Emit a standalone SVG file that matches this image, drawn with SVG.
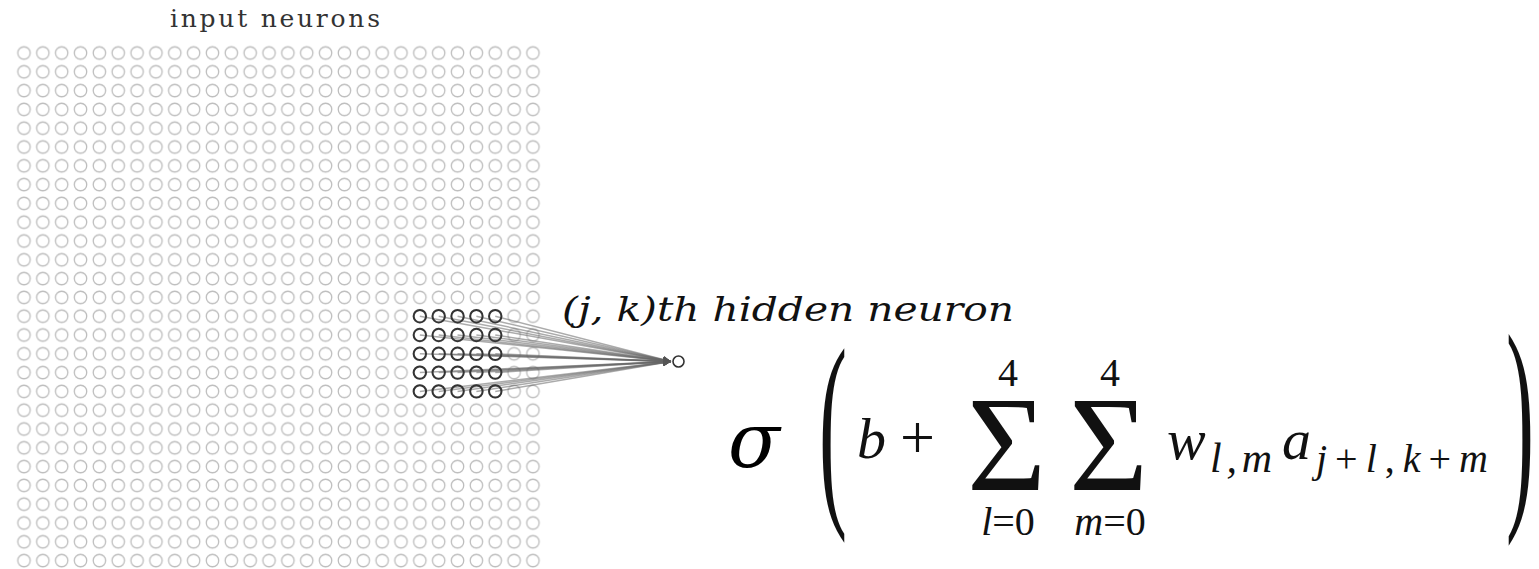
<svg xmlns="http://www.w3.org/2000/svg" width="1539" height="569" viewBox="0 0 1539 569">
<style>
.cm{font-family:"Liberation Serif","DejaVu Serif",serif;fill:#111}
.it{font-style:italic}
.lbl{font-family:"DejaVu Serif","Liberation Serif",serif;fill:#333}
.conn{stroke:#666;stroke-opacity:0.55;stroke-width:1.5;fill:none}
.dark{fill:none;stroke:#333;stroke-width:2}
</style>
<defs>
<pattern id="grid" patternUnits="userSpaceOnUse" x="14.575" y="43.6" width="18.85" height="18.8">
<circle cx="9.425" cy="9.4" r="6.2" fill="none" stroke="#bdbdbd" stroke-width="1.3"/>
</pattern>
<marker id="ah" markerUnits="userSpaceOnUse" markerWidth="10" markerHeight="8" refX="8" refY="3.5" orient="auto">
<path d="M0,0 L8,3.5 L0,7 z" fill="#555"/>
</marker>
</defs>
<rect width="1539" height="569" fill="#fff"/>
<text class="lbl" x="170" y="26.5" font-size="25" textLength="210" lengthAdjust="spacing">input neurons</text>
<g id="input-neurons">
<rect x="14.575" y="43.6" width="527.8" height="526.4" fill="url(#grid)"/>
</g>
<g id="connectors">
<line class="conn" x1="419.85" y1="316.2" x2="671" y2="361.5" marker-end="url(#ah)"/>
<line class="conn" x1="438.7" y1="316.2" x2="671" y2="361.5" marker-end="url(#ah)"/>
<line class="conn" x1="457.55" y1="316.2" x2="671" y2="361.5" marker-end="url(#ah)"/>
<line class="conn" x1="476.4" y1="316.2" x2="671" y2="361.5" marker-end="url(#ah)"/>
<line class="conn" x1="495.25" y1="316.2" x2="671" y2="361.5" marker-end="url(#ah)"/>
<line class="conn" x1="419.85" y1="335" x2="671" y2="361.5" marker-end="url(#ah)"/>
<line class="conn" x1="438.7" y1="335" x2="671" y2="361.5" marker-end="url(#ah)"/>
<line class="conn" x1="457.55" y1="335" x2="671" y2="361.5" marker-end="url(#ah)"/>
<line class="conn" x1="476.4" y1="335" x2="671" y2="361.5" marker-end="url(#ah)"/>
<line class="conn" x1="495.25" y1="335" x2="671" y2="361.5" marker-end="url(#ah)"/>
<line class="conn" x1="419.85" y1="353.8" x2="671" y2="361.5" marker-end="url(#ah)"/>
<line class="conn" x1="438.7" y1="353.8" x2="671" y2="361.5" marker-end="url(#ah)"/>
<line class="conn" x1="457.55" y1="353.8" x2="671" y2="361.5" marker-end="url(#ah)"/>
<line class="conn" x1="476.4" y1="353.8" x2="671" y2="361.5" marker-end="url(#ah)"/>
<line class="conn" x1="495.25" y1="353.8" x2="671" y2="361.5" marker-end="url(#ah)"/>
<line class="conn" x1="419.85" y1="372.6" x2="671" y2="361.5" marker-end="url(#ah)"/>
<line class="conn" x1="438.7" y1="372.6" x2="671" y2="361.5" marker-end="url(#ah)"/>
<line class="conn" x1="457.55" y1="372.6" x2="671" y2="361.5" marker-end="url(#ah)"/>
<line class="conn" x1="476.4" y1="372.6" x2="671" y2="361.5" marker-end="url(#ah)"/>
<line class="conn" x1="495.25" y1="372.6" x2="671" y2="361.5" marker-end="url(#ah)"/>
<line class="conn" x1="419.85" y1="391.4" x2="671" y2="361.5" marker-end="url(#ah)"/>
<line class="conn" x1="438.7" y1="391.4" x2="671" y2="361.5" marker-end="url(#ah)"/>
<line class="conn" x1="457.55" y1="391.4" x2="671" y2="361.5" marker-end="url(#ah)"/>
<line class="conn" x1="476.4" y1="391.4" x2="671" y2="361.5" marker-end="url(#ah)"/>
<line class="conn" x1="495.25" y1="391.4" x2="671" y2="361.5" marker-end="url(#ah)"/>
</g>
<g id="receptive-field">
<circle class="dark" cx="419.85" cy="316.2" r="6.2"/><circle class="dark" cx="438.7" cy="316.2" r="6.2"/><circle class="dark" cx="457.55" cy="316.2" r="6.2"/><circle class="dark" cx="476.4" cy="316.2" r="6.2"/><circle class="dark" cx="495.25" cy="316.2" r="6.2"/>
<circle class="dark" cx="419.85" cy="335" r="6.2"/><circle class="dark" cx="438.7" cy="335" r="6.2"/><circle class="dark" cx="457.55" cy="335" r="6.2"/><circle class="dark" cx="476.4" cy="335" r="6.2"/><circle class="dark" cx="495.25" cy="335" r="6.2"/>
<circle class="dark" cx="419.85" cy="353.8" r="6.2"/><circle class="dark" cx="438.7" cy="353.8" r="6.2"/><circle class="dark" cx="457.55" cy="353.8" r="6.2"/><circle class="dark" cx="476.4" cy="353.8" r="6.2"/><circle class="dark" cx="495.25" cy="353.8" r="6.2"/>
<circle class="dark" cx="419.85" cy="372.6" r="6.2"/><circle class="dark" cx="438.7" cy="372.6" r="6.2"/><circle class="dark" cx="457.55" cy="372.6" r="6.2"/><circle class="dark" cx="476.4" cy="372.6" r="6.2"/><circle class="dark" cx="495.25" cy="372.6" r="6.2"/>
<circle class="dark" cx="419.85" cy="391.4" r="6.2"/><circle class="dark" cx="438.7" cy="391.4" r="6.2"/><circle class="dark" cx="457.55" cy="391.4" r="6.2"/><circle class="dark" cx="476.4" cy="391.4" r="6.2"/><circle class="dark" cx="495.25" cy="391.4" r="6.2"/>
</g>
<g id="hidden-neuron">
<circle cx="678.5" cy="361.5" r="5.5" fill="#fff" stroke="#333" stroke-width="1.6"/>
<text class="cm it" x="562" y="321" font-size="34" textLength="452" lengthAdjust="spacingAndGlyphs" style="font-family:'DejaVu Serif',serif">(j, k)th hidden neuron</text>
</g>
<g id="formula">
<text x="728" y="467" font-size="76" style="font-family:'DejaVu Serif',serif;font-style:italic" fill="#000">σ</text>
<text class="cm" transform="translate(819,497.4) scale(1.4,3.56)" font-size="60">(</text>
<text class="cm it" x="857" y="458" font-size="58">b</text>
<text class="cm" x="900" y="458" font-size="62">+</text>
<text class="cm" x="967" y="490" font-size="136">Σ</text>
<text class="cm" x="1069" y="490" font-size="136">Σ</text>
<text class="cm" x="1008" y="386" font-size="40" text-anchor="middle">4</text>
<text class="cm" x="1110" y="386" font-size="40" text-anchor="middle">4</text>
<text class="cm" x="1008" y="535" font-size="40" text-anchor="middle"><tspan class="it">l</tspan>=0</text>
<text class="cm" x="1110" y="535" font-size="40" text-anchor="middle"><tspan class="it">m</tspan>=0</text>
<text class="cm it" x="1167" y="459" font-size="58">w</text>
<text class="cm it" x="1210" y="472" font-size="42" textLength="62">l,m</text>
<text class="cm it" x="1282" y="459" font-size="58">a</text>
<text class="cm" x="1316" y="472" font-size="40" textLength="172"><tspan class="it">j</tspan>+<tspan class="it">l</tspan>,<tspan class="it">k</tspan>+<tspan class="it">m</tspan></text>
<text class="cm" transform="translate(1506,495.8) scale(1.4,3.88)" font-size="60">)</text>
</g>
</svg>
